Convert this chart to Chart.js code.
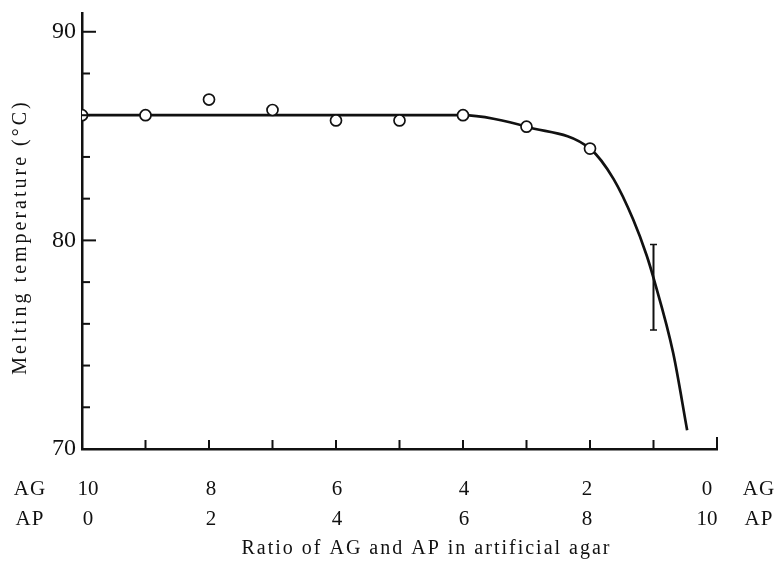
<!DOCTYPE html>
<html>
<head>
<meta charset="utf-8">
<script src="https://cdn.jsdelivr.net/npm/chart.js@4/dist/chart.umd.min.js"></script>
<style>
  html, body { margin: 0; padding: 0; background: #fff; }
  #wrap { width: 781px; height: 563px; }
</style>
</head>
<body>
<div id="wrap"><canvas id="c" width="781" height="563"></canvas></div>
<script>
// Measured melting temperatures (°C) at each AP share (parts of 10)
const apParts  = [0, 1, 2, 3, 4, 5, 6, 7, 8];
const meltTemp = [86.0, 86.0, 86.75, 86.25, 85.75, 85.75, 86.0, 85.45, 84.4];

// Hand-drawn trend curve through the measurements
const curveAP   = [0, 6, 6.5, 7, 8, 8.37, 8.68, 8.89, 9, 9.31, 9.53];
const curveTemp = [86.0, 86.0, 85.82, 85.45, 84.4, 82.95, 81.0, 79.3, 78.2, 74.6, 70.9];

// Spread of the AP = 9 measurements
const errAP   = [9];
const errLow  = [75.7];
const errHigh = [79.8];

// Axis ticks and labels
const yTickValues  = [70, 72, 74, 76, 78, 80, 82, 84, 86, 88, 90];
const yLabelValues = [70, 80, 90];
const xTickValues  = [1, 2, 3, 4, 5, 6, 7, 8, 9, 10];
const xLabelPos    = [0, 2, 4, 6, 8, 10];
const agLabels     = ['10', '8', '6', '4', '2', '0'];
const apLabels     = ['0', '2', '4', '6', '8', '10'];

const INK = '#111';
const SERIF = '"Liberation Serif", "DejaVu Serif", serif';

const decorations = {
  id: 'decorations',
  afterDraw(chart) {
    const { ctx, chartArea: a, scales: { x, y } } = chart;
    ctx.save();
    ctx.strokeStyle = INK;
    ctx.fillStyle = INK;
    ctx.lineCap = 'butt';

    // inward ticks on the temperature axis
    ctx.lineWidth = 2;
    yTickValues.forEach(v => {
      const py = y.getPixelForValue(v);
      const len = yLabelValues.includes(v) ? 14 : 8;
      ctx.beginPath();
      ctx.moveTo(a.left, py);
      ctx.lineTo(a.left + len, py);
      ctx.stroke();
    });

    // upward ticks on the ratio axis
    xTickValues.forEach(v => {
      const px = x.getPixelForValue(v);
      const len = v === 10 ? 12 : 9;
      ctx.beginPath();
      ctx.moveTo(px, a.bottom);
      ctx.lineTo(px, a.bottom - len);
      ctx.stroke();
    });

    // error bar
    errAP.forEach((v, i) => {
      const px = x.getPixelForValue(v);
      const top = y.getPixelForValue(errHigh[i]);
      const bot = y.getPixelForValue(errLow[i]);
      ctx.lineWidth = 2;
      ctx.beginPath();
      ctx.moveTo(px, top);
      ctx.lineTo(px, bot);
      ctx.stroke();
      ctx.lineWidth = 1.5;
      ctx.beginPath();
      ctx.moveTo(px - 3.5, top);
      ctx.lineTo(px + 3.5, top);
      ctx.moveTo(px - 3.5, bot);
      ctx.lineTo(px + 3.5, bot);
      ctx.stroke();
    });

    // two-row ratio labels
    ctx.font = '21px ' + SERIF;
    ctx.textBaseline = 'middle';
    ctx.textAlign = 'center';
    const nudge = [6, 2, 1, 1, -3, -10];
    xLabelPos.forEach((v, i) => {
      const px = x.getPixelForValue(v) + nudge[i];
      ctx.fillText(agLabels[i], px, 489);
      ctx.fillText(apLabels[i], px, 519);
    });
    ctx.letterSpacing = '1px';
    ctx.fillText('AG', 30, 489);
    ctx.fillText('AP', 30, 519);
    ctx.fillText('AG', 759, 489);
    ctx.fillText('AP', 759, 519);

    // axis titles
    ctx.font = '20px ' + SERIF;
    ctx.letterSpacing = '2px';
    ctx.fillText('Ratio of AG and AP in artificial agar', (a.left + a.right) / 2 + 27, 549);

    ctx.save();
    ctx.translate(21, 237);
    ctx.rotate(-Math.PI / 2);
    ctx.letterSpacing = '3px';
    ctx.fillText('Melting temperature (°C)', 0, 0);
    ctx.restore();

    ctx.restore();
  }
};

new Chart(document.getElementById('c'), {
  type: 'scatter',
  data: {
    datasets: [
      {
        data: curveAP.map((v, i) => ({ x: v, y: curveTemp[i] })),
        showLine: true,
        borderColor: INK,
        borderWidth: 2.7,
        pointRadius: 0,
        cubicInterpolationMode: 'monotone',
        order: 2
      },
      {
        data: apParts.map((v, i) => ({ x: v, y: meltTemp[i] })),
        showLine: false,
        pointRadius: 5.5,
        pointBackgroundColor: '#fff',
        pointBorderColor: INK,
        pointBorderWidth: 1.7,
        order: 1
      }
    ]
  },
  options: {
    responsive: false,
    animation: false,
    events: [],
    layout: { padding: { left: 0, right: 64, top: 13, bottom: 0 } },
    plugins: { legend: { display: false }, tooltip: { enabled: false } },
    scales: {
      x: {
        type: 'linear',
        min: 0,
        max: 10,
        afterFit(s) { s.height = 114; s.paddingLeft = 0; s.paddingRight = 0; },
        grid: { display: false, drawTicks: false },
        border: { display: true, color: INK, width: 2.5 },
        ticks: { display: false }
      },
      y: {
        min: 70,
        max: 90.9,
        afterFit(s) { s.width = 82; s.paddingTop = 0; s.paddingBottom = 0; },
        afterBuildTicks(s) { s.ticks = yLabelValues.map(v => ({ value: v })); },
        grid: { display: false, drawTicks: false },
        border: { display: true, color: INK, width: 2.5 },
        ticks: {
          color: INK,
          padding: 6,
          font: { family: SERIF, size: 24 }
        }
      }
    }
  },
  plugins: [decorations]
});
</script>
</body>
</html>
